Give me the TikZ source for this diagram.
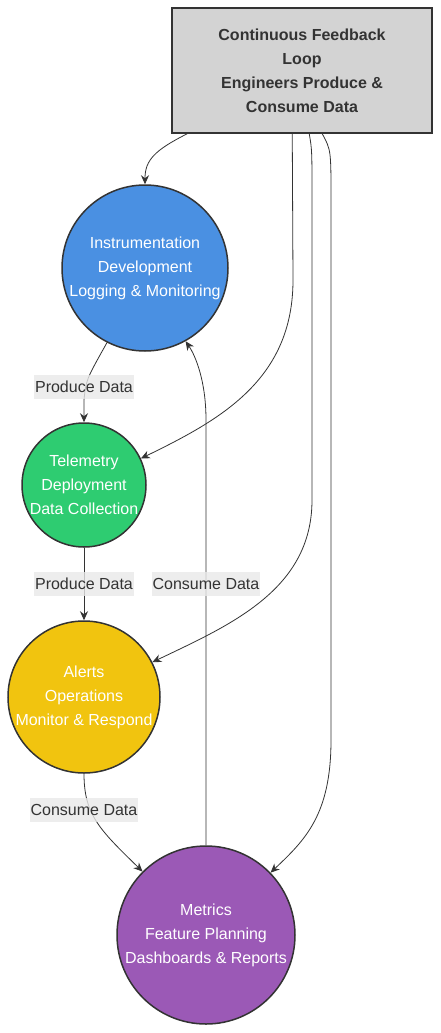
\documentclass[tikz,border=0pt]{standalone}
\usepackage{fontspec}
\setmainfont{Liberation Sans}
\usetikzlibrary{arrows.meta}
\definecolor{linegray}{HTML}{333333}
\definecolor{boxgray}{HTML}{D3D3D3}
\definecolor{lblgray}{HTML}{E8E8E8}
\definecolor{instblue}{HTML}{4A90E2}
\definecolor{telegreen}{HTML}{2ECC71}
\definecolor{alertyellow}{HTML}{F1C40F}
\definecolor{metricpurple}{HTML}{9B59B6}
\begin{document}
\begin{tikzpicture}[x=1pt,y=-1pt,>={Stealth[length=9pt,width=8pt]},
  every node/.style={font=\fontsize{16}{24}\selectfont,align=center},
  stage/.style={circle,draw=linegray,line width=1.5pt,text=white,inner sep=0pt},
  flow/.style={->,draw=linegray,line width=0.8pt},
  lbl/.style={fill=lblgray,fill opacity=0.8,text opacity=1,text=linegray,inner xsep=1pt,inner ysep=0pt,minimum height=24pt}]
\useasboundingbox (0,0) rectangle (440,1033);
\node[draw=linegray,fill=boxgray,line width=1.5pt,minimum width=260pt,minimum height=125pt,text=linegray,font=\bfseries\fontsize{16}{24}\selectfont] (loop) at (302,70.5) {Continuous Feedback\\Loop\\Engineers Produce \&\\Consume Data};
\node[stage,fill=instblue,minimum size=166pt] (inst) at (145,268) {Instrumentation\\Development\\Logging \& Monitoring};
\node[stage,fill=telegreen,minimum size=124pt] (tele) at (84,485) {Telemetry\\Deployment\\Data Collection};
\node[stage,fill=alertyellow,minimum size=152pt] (alerts) at (84,697) {Alerts\\Operations\\Monitor \& Respond};
\node[stage,fill=metricpurple,minimum size=178pt] (metrics) at (206,935) {Metrics\\Feature Planning\\Dashboards \& Reports};
% loop to every stage
\draw[flow] ([xshift=16pt]loop.south west) .. controls (155,150) and (145,160) .. (inst.north);
\draw[flow] ([xshift=121pt]loop.south west) -- (293,280) .. controls (293,380) and (220,420) .. (tele.25);
\draw[flow] ([xshift=138pt]loop.south west) .. controls (312,150) .. (312,200) -- (312,500) .. controls (312,590) and (230,625) .. (alerts.27);
\draw[flow] ([xshift=151pt]loop.south west) .. controls (331,150) .. (331,200) -- (331,740) .. controls (331,815) and (305,840) .. (metrics.44);
% stage to stage
\draw[flow] (inst.-117) .. controls (86,380) .. (84,400) -- (tele.north);
\draw[flow] (tele.south) -- (alerts.north);
\draw[flow] (alerts.south) .. controls (84,815) and (100,830) .. (metrics.135);
\draw[flow] (metrics.north) -- (206,420) .. controls (206,380) and (195,355) .. (inst.-61);
\node[lbl] (pd1) at (84,387) {Produce Data};
\node[lbl] (pd2) at (84,584) {Produce Data};
\node[lbl] (cd1) at (206,584) {Consume Data};
\node[lbl] (cd2) at (84,810) {Consume Data};
\end{tikzpicture}
\end{document}
